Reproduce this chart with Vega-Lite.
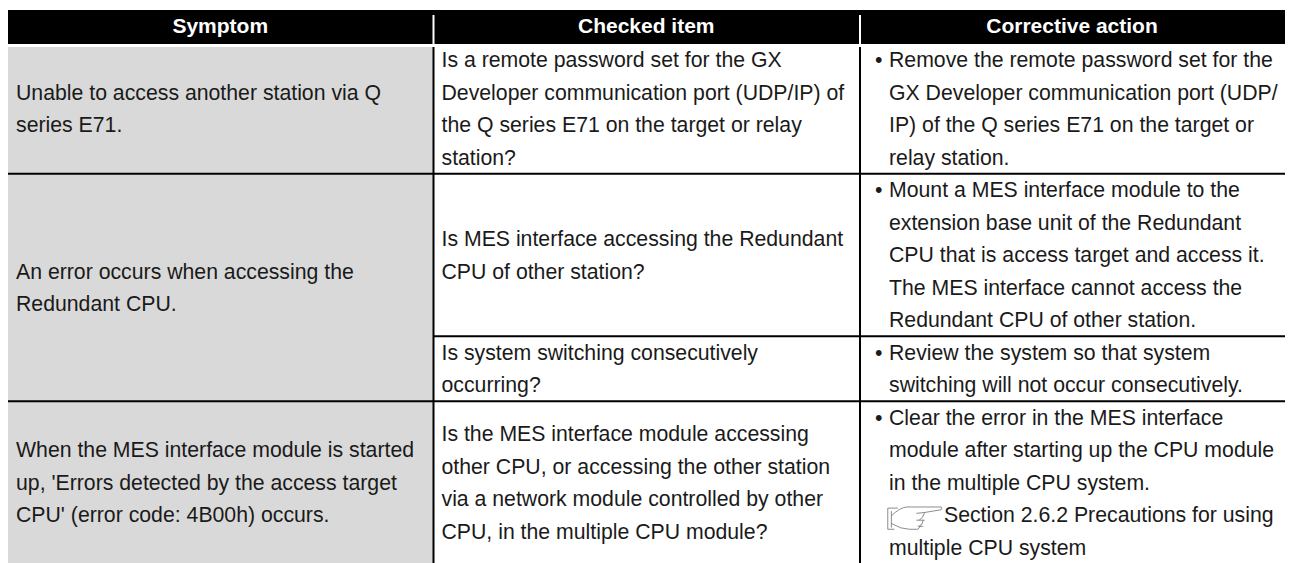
{
"$schema":"https://vega.github.io/schema/vega-lite/v6.json",
"width":1290,"height":563,
"autosize":{"type":"fit","contains":"padding"},
"padding":0,
"background":"#ffffff",
"view":{"stroke":null},
"config":{"text":{"font":"Liberation Sans","fontSize":21.25,"color":"#1a1a1a","baseline":"middle"}},
"datasets":{
"body":[
{"column":0,"line":1,"text":"Unable to access another station via Q"},
{"column":0,"line":2,"text":"series E71."},
{"column":0,"line":6.5,"text":"An error occurs when accessing the"},
{"column":0,"line":7.5,"text":"Redundant CPU."},
{"column":0,"line":12,"text":"When the MES interface module is started"},
{"column":0,"line":13,"text":"up, 'Errors detected by the access target"},
{"column":0,"line":14,"text":"CPU' (error code: 4B00h) occurs."},
{"column":1,"line":0,"text":"Is a remote password set for the GX"},
{"column":1,"line":1,"text":"Developer communication port (UDP/IP) of"},
{"column":1,"line":2,"text":"the Q series E71 on the target or relay"},
{"column":1,"line":3,"text":"station?"},
{"column":1,"line":5.5,"text":"Is MES interface accessing the Redundant"},
{"column":1,"line":6.5,"text":"CPU of other station?"},
{"column":1,"line":9,"text":"Is system switching consecutively"},
{"column":1,"line":10,"text":"occurring?"},
{"column":1,"line":11.5,"text":"Is the MES interface module accessing"},
{"column":1,"line":12.5,"text":"other CPU, or accessing the other station"},
{"column":1,"line":13.5,"text":"via a network module controlled by other"},
{"column":1,"line":14.5,"text":"CPU, in the multiple CPU module?"}
],
"action":[
{"column":2,"line":0,"bullet":true,"text":"Remove the remote password set for the"},
{"column":2,"line":1,"bullet":false,"text":"GX Developer communication port (UDP/"},
{"column":2,"line":2,"bullet":false,"text":"IP) of the Q series E71 on the target or"},
{"column":2,"line":3,"bullet":false,"text":"relay station."},
{"column":2,"line":4,"bullet":true,"text":"Mount a MES interface module to the"},
{"column":2,"line":5,"bullet":false,"text":"extension base unit of the Redundant"},
{"column":2,"line":6,"bullet":false,"text":"CPU that is access target and access it."},
{"column":2,"line":7,"bullet":false,"text":"The MES interface cannot access the"},
{"column":2,"line":8,"bullet":false,"text":"Redundant CPU of other station."},
{"column":2,"line":9,"bullet":true,"text":"Review the system so that system"},
{"column":2,"line":10,"bullet":false,"text":"switching will not occur consecutively."},
{"column":2,"line":11,"bullet":true,"text":"Clear the error in the MES interface"},
{"column":2,"line":12,"bullet":false,"text":"module after starting up the CPU module"},
{"column":2,"line":13,"bullet":false,"text":"in the multiple CPU system."},
{"column":2,"line":15,"bullet":false,"text":"multiple CPU system"}
],
"reference":[{"column":2,"line":14,"text":"Section 2.6.2 Precautions for using"}],
"header":[
{"column":0,"end":1,"label":"Symptom"},
{"column":1,"end":2,"label":"Checked item"},
{"column":2,"end":3,"label":"Corrective action"}
],
"rows":[
{"from":0,"to":3,"line":3.5},
{"from":1,"to":3,"line":8.5},
{"from":0,"to":3,"line":10.5}
],
"dividers":[{"column":1},{"column":2}]
},
"layer":[
{"data":{"values":[{"from":0,"to":1,"top":-0.4,"bottom":15.6}]},"mark":{"type":"rect","fill":"#d9d9d9"},
"encoding":{"x":{"field":"from","type":"quantitative","scale":{"domain":[0,1,2,3],"range":[8,433.5,860,1285],"nice":false,"zero":false},"axis":null},"x2":{"field":"to"},"y":{"field":"top","type":"quantitative","scale":{"domain":[-1.846,15.477],"range":[0,563],"nice":false,"zero":false},"axis":null},"y2":{"field":"bottom"}}},
{"data":{"values":[{"from":0,"to":3,"top":-1.538,"bottom":-0.492}]},"mark":{"type":"rect","fill":"#000000"},
"encoding":{"x":{"field":"from","type":"quantitative","axis":null},"x2":{"field":"to"},"y":{"field":"top","type":"quantitative","axis":null},"y2":{"field":"bottom"}}},
{"data":{"name":"dividers"},"transform":[{"calculate":"-1.385","as":"top"},{"calculate":"-0.492","as":"bottom"}],"mark":{"type":"rule","stroke":"#ffffff","strokeWidth":2},
"encoding":{"x":{"field":"column","type":"quantitative","axis":null},"y":{"field":"top","type":"quantitative","axis":null},"y2":{"field":"bottom"}}},
{"data":{"name":"dividers"},"transform":[{"calculate":"-0.4","as":"top"},{"calculate":"15.6","as":"bottom"}],"mark":{"type":"rule","stroke":"#000000","strokeWidth":2},
"encoding":{"x":{"field":"column","type":"quantitative","axis":null},"y":{"field":"top","type":"quantitative","axis":null},"y2":{"field":"bottom"}}},
{"data":{"name":"rows"},"mark":{"type":"rule","stroke":"#000000","strokeWidth":2},
"encoding":{"x":{"field":"from","type":"quantitative","axis":null},"x2":{"field":"to"},"y":{"field":"line","type":"quantitative","axis":null}}},
{"data":{"name":"header"},"transform":[{"calculate":"-1","as":"line"},{"calculate":"(datum.column+datum.end)/2","as":"mid"}],"mark":{"type":"text","align":"center","fontWeight":"bold","color":"#ffffff","fontSize":21,"dx":-0.5,"dy":-0.5},
"encoding":{"x":{"field":"mid","type":"quantitative","axis":null},"y":{"field":"line","type":"quantitative","axis":null},"text":{"field":"label"}}},
{"data":{"name":"body"},"mark":{"type":"text","align":"left","dx":8,"dy":1.4},
"encoding":{"x":{"field":"column","type":"quantitative","axis":null},"y":{"field":"line","type":"quantitative","axis":null},"text":{"field":"text"}}},
{"data":{"name":"action"},"mark":{"type":"text","align":"left","dx":29,"dy":1.4},
"encoding":{"x":{"field":"column","type":"quantitative","axis":null},"y":{"field":"line","type":"quantitative","axis":null},"text":{"field":"text"}}},
{"data":{"name":"action"},"transform":[{"filter":"datum.bullet"}],"mark":{"type":"text","align":"left","dx":15,"dy":1.4,"text":"•"},
"encoding":{"x":{"field":"column","type":"quantitative","axis":null},"y":{"field":"line","type":"quantitative","axis":null}}},
{"data":{"name":"reference"},"mark":{"type":"text","align":"left","dx":84,"dy":1},
"encoding":{"x":{"field":"column","type":"quantitative","axis":null},"y":{"field":"line","type":"quantitative","axis":null},"text":{"field":"text"}}},
{"data":{"name":"reference"},"mark":{"type":"point","filled":false,"stroke":"#333333","strokeWidth":0.8,"size":3025,"xOffset":55,"yOffset":3,"shape":"M-0.62 -0.36 L-0.99 -0.36 L-0.99 0.41 L-0.75 0.41 M-0.86 -0.25 L-0.86 0.35 M-0.86 -0.08 Q-0.55 -0.38 -0.3 -0.4 L0.95 -0.4 Q1 -0.33 0.95 -0.3 L0.35 -0.2 L0.05 -0.17 M0.35 -0.2 Q0.3 0 0.15 0.08 M0.05 0.08 L0.35 0.08 M0.3 0.08 Q0.28 0.25 0.15 0.3 M0.1 0.3 L0.3 0.3 M-0.86 0.2 Q-0.5 0.41 -0.2 0.41 L0.1 0.41 L0.2 0.3"},
"encoding":{"x":{"field":"column","type":"quantitative","axis":null},"y":{"field":"line","type":"quantitative","axis":null}}}
]
}
